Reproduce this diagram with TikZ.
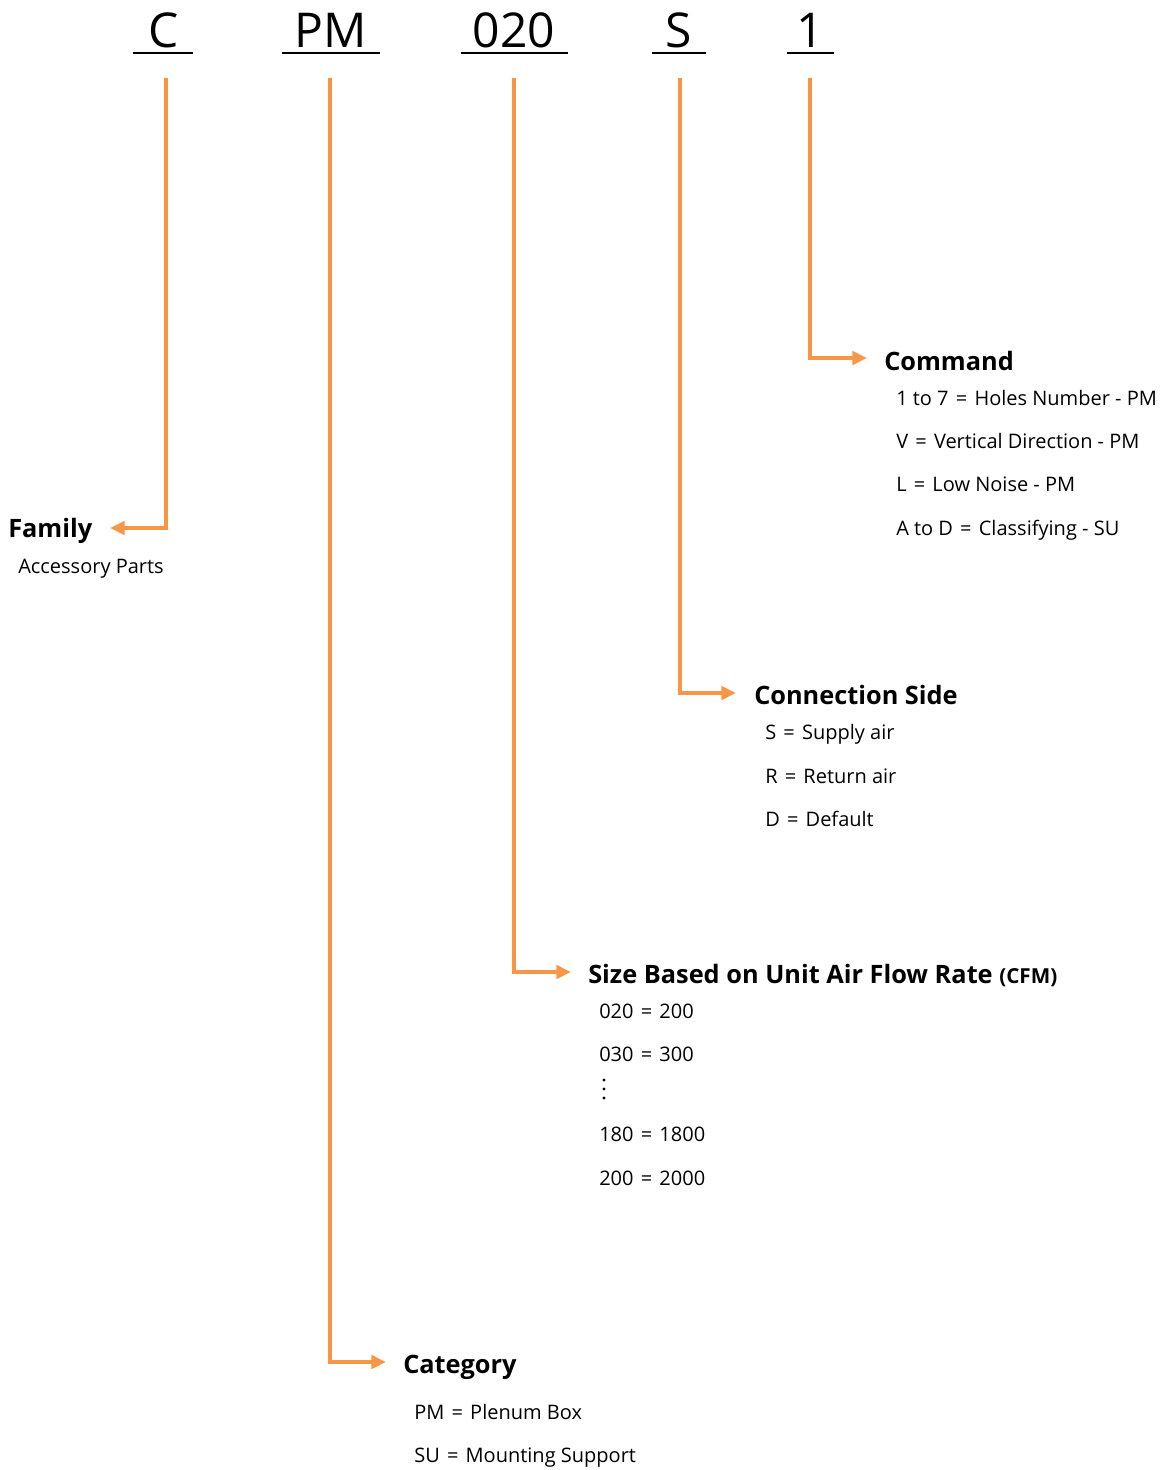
\documentclass[tikz,border=0pt]{standalone}
\usepackage{fontspec}
\setmainfont{Open Sans}
\usetikzlibrary{arrows.meta}
\definecolor{org}{RGB}{247,150,70}
\newcommand{\eqs}{\hspace{0.36em}=\hspace{0.36em}}
\begin{document}
\begin{tikzpicture}[x=0.75pt,y=-0.75pt,
  conn/.style={draw=org, line width=3pt, -{Triangle[length=11pt,width=10pt]}},
  code/.style={anchor=base, inner sep=0pt, font=\fontsize{36}{40}\selectfont},
  head/.style={anchor=base west, inner sep=0pt, font=\fontsize{19}{21}\selectfont\bfseries},
  item/.style={anchor=base west, inner sep=0pt, font=\fontsize{15}{17}\selectfont},
  uline/.style={line width=2.2pt}]
\useasboundingbox (0,0) rectangle (1169,1470);

% code letters
\node[code] (cC) at (164,48) {C};
\node[code] (cPM) at (331,48) {PM};
\node[code] (c020) at (514,48) {020};
\node[code] (cS) at (679,48) {S};
\node[code] (c1) at (810,48) {1};
\draw[uline] (133,53) -- (193,53);
\draw[uline] (282,53) -- (380,53);
\draw[uline] (461,53) -- (568,53);
\draw[uline] (652,53) -- (706,53);
\draw[uline] (787,53) -- (834,53);

\coordinate (sC) at (166,78);
\coordinate (sPM) at (330,78);
\coordinate (s020) at (514,78);
\coordinate (sS) at (680,78);
\coordinate (s1) at (810,78);

% Family
\node[head] (fam) at (8,537) {Family};
\node[item] (fam1) at (18,573) {Accessory Parts};
\coordinate (eC) at (110,528);

% Command
\node[head] (cmd) at (884,370) {Command};
\node[item] (cmd1) at (896,405) {1 to 7\eqs Holes Number - PM};
\node[item] (cmd2) at (896,448) {V\eqs Vertical Direction - PM};
\node[item] (cmd3) at (896,491) {L\eqs Low Noise - PM};
\node[item] (cmd4) at (896,535) {A to D\eqs Classifying - SU};
\coordinate (e1) at (867,358);

% Connection side
\node[head] (con) at (754,704) {Connection Side};
\node[item] (con1) at (765,739) {S\eqs Supply air};
\node[item] (con2) at (765,783) {R\eqs Return air};
\node[item] (con3) at (765,826) {D\eqs Default};
\coordinate (eS) at (736,693);

% Size
\node[head] (siz) at (588,983) {Size Based on Unit Air Flow Rate {\fontsize{15.5}{17}\selectfont(CFM)}};
\node[item] (siz1) at (599,1018) {020\eqs 200};
\node[item] (siz2) at (599,1061) {030\eqs 300};
\fill (604,1080) circle (1.6) (604,1089) circle (1.6) (604,1098) circle (1.6);
\node[item] (siz3) at (599,1141) {180\eqs 1800};
\node[item] (siz4) at (599,1185) {200\eqs 2000};
\coordinate (e020) at (571,972);

% Category
\node[head] (cat) at (403,1373) {Category};
\node[item] (cat1) at (414,1419) {PM\eqs Plenum Box};
\node[item] (cat2) at (414,1462) {SU\eqs Mounting Support};
\coordinate (ePM) at (386,1362);

% connectors
\draw[conn] (sC) |- (eC);
\draw[conn] (sPM) |- (ePM);
\draw[conn] (s020) |- (e020);
\draw[conn] (sS) |- (eS);
\draw[conn] (s1) |- (e1);
\end{tikzpicture}
\end{document}
